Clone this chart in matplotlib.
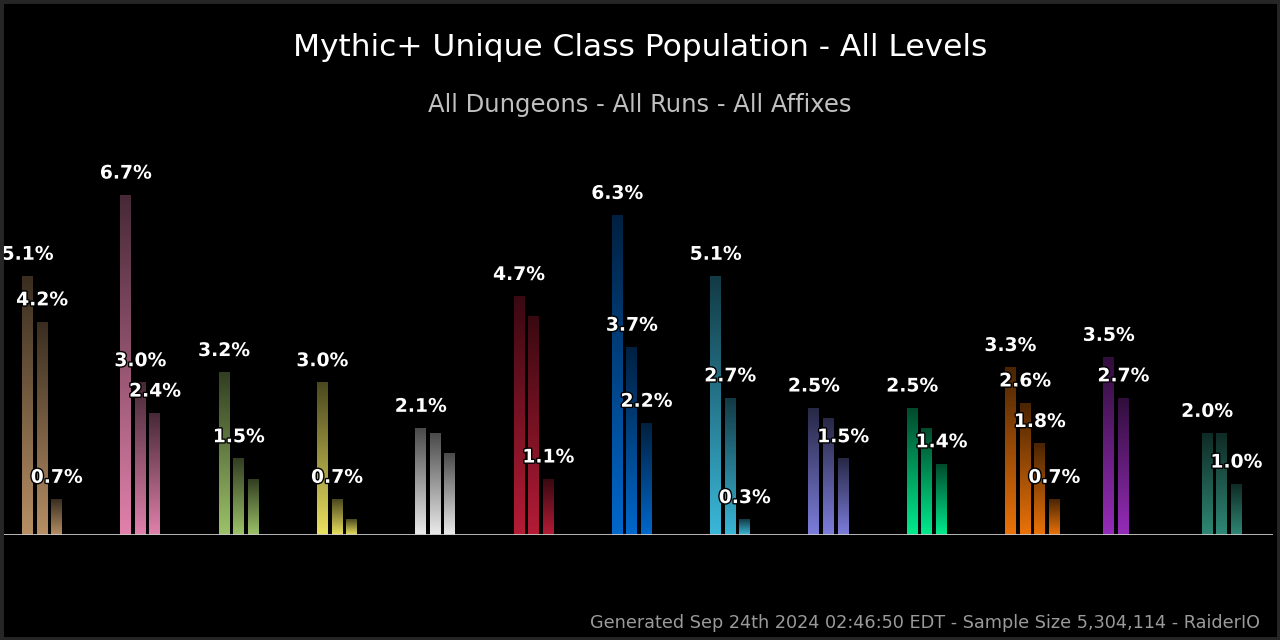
import numpy as np
import matplotlib
matplotlib.use("Agg")
import matplotlib.pyplot as plt
import matplotlib.patheffects as pe
from matplotlib.patches import Rectangle

classes = ["Warrior", "Paladin", "Hunter", "Rogue", "Priest", "Death Knight",
           "Shaman", "Mage", "Warlock", "Monk", "Druid", "Demon Hunter", "Evoker"]
colors = ["#C69B6D", "#F48CBA", "#AAD372", "#FFF468", "#FFFFFF", "#C41E3A",
          "#0070DD", "#3FC7EB", "#8788EE", "#00FF98", "#FF7C0A", "#A330C9", "#33937F"]
# spec share (%) per class
values = [
    [5.1, 4.2, 0.7],
    [6.7, 3.0, 2.4],
    [3.2, 1.5, 1.1],
    [3.0, 0.7, 0.3],
    [2.1, 2.0, 1.6],
    [4.7, 4.3, 1.1],
    [6.3, 3.7, 2.2],
    [5.1, 2.7, 0.3],
    [2.5, 2.3, 1.5],
    [2.5, 2.1, 1.4],
    [3.3, 2.6, 1.8, 0.7],
    [3.5, 2.7],
    [2.0, 2.0, 1.0],
]
# which data labels survive overlap hiding
shown = [
    [1, 1, 1], [1, 1, 1], [1, 1, 0], [1, 1, 0], [1, 0, 0], [1, 0, 1], [1, 1, 1],
    [1, 1, 1], [1, 0, 1], [1, 0, 1], [1, 1, 1, 1], [1, 1], [1, 0, 1],
]

W, H = 1280, 640
fig = plt.figure(figsize=(12.8, 6.4), dpi=100, facecolor="black")
fig.patches.append(Rectangle((0, 0), 1, 1, transform=fig.transFigure,
                             facecolor="none", edgecolor="#262626", linewidth=5))

px_group = 98.3
px_per_pct = 50.7
base_px = 105
ax_h_px = 420
ax = fig.add_axes([0, base_px / H, 1273 / W, ax_h_px / H])
ax.set_facecolor("black")
ax.axis("off")

step = 14.6 / px_group
bw = 10.8 / px_group

for i, (vals, col) in enumerate(zip(values, colors)):
    rgb = np.array(matplotlib.colors.to_rgb(col)) * 0.92
    for j, v in enumerate(vals):
        x0 = i + j * step
        f = np.linspace(0.32, 1.0, 64)[:, None]
        grad = (rgb[None, :] * f)[:, None, :]
        ax.imshow(grad, extent=[x0, x0 + bw, 0, v], aspect="auto",
                  origin="upper", interpolation="bilinear", zorder=2)
        if shown[i][j]:
            ax.annotate(f"{v:.1f}%", (x0 + bw / 2, v), xytext=(0, 16),
                        textcoords="offset points", ha="center", va="center",
                        color="white", fontsize=13.5, fontweight="bold",
                        path_effects=[pe.withStroke(linewidth=2, foreground="black")],
                        zorder=5)

ax.axhline(0, color="#c8c8c8", linewidth=2, zorder=3)
ax.set_xlim(-22 / px_group, (1273 - 22) / px_group)
ax.set_ylim(0, ax_h_px / px_per_pct)

fig.text(0.5, 1 - 48 / H, "Mythic+ Unique Class Population - All Levels",
         ha="center", va="center", color="white", fontsize=22.5)
fig.text(0.5, 1 - 105 / H, "All Dungeons - All Runs - All Affixes",
         ha="center", va="center", color="#c0c0c0", fontsize=17.5)
fig.text(1260 / W, 1 - 623 / H,
         "Generated Sep 24th 2024 02:46:50 EDT - Sample Size 5,304,114 - RaiderIO",
         ha="right", va="center", color="#9a9a9a", fontsize=12.7)

fig.savefig("out.png", dpi=100, facecolor="black")
